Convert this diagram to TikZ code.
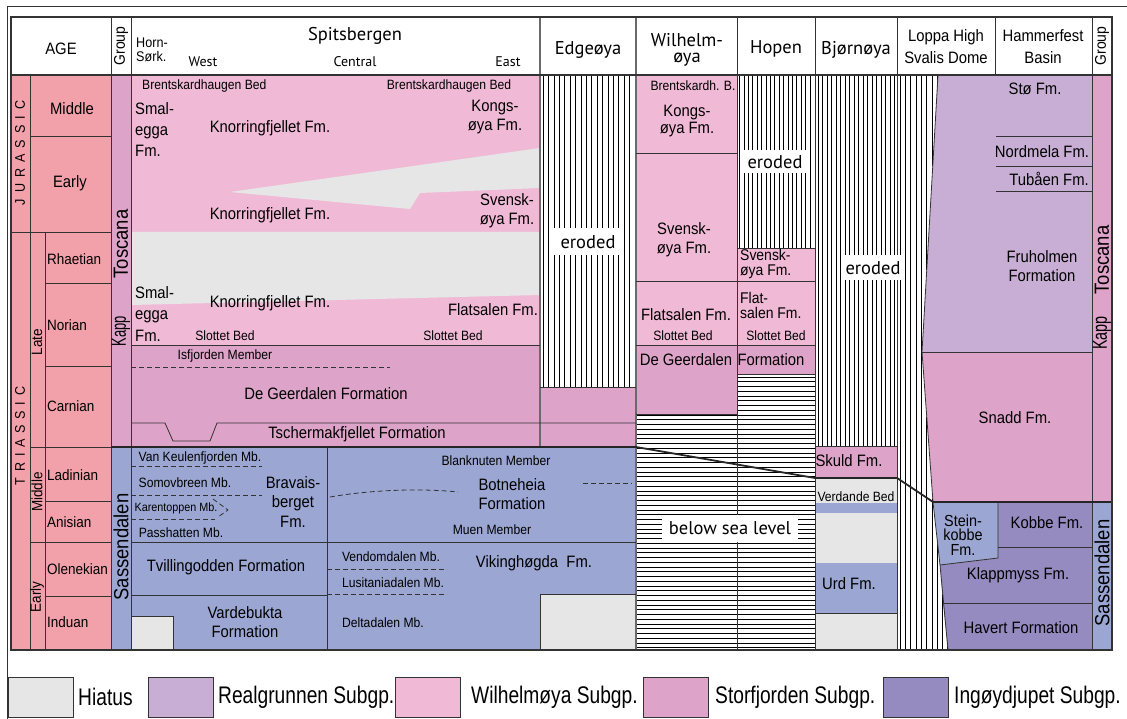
\documentclass[tikz,border=0pt]{standalone}
\usepackage{fontspec}
\usepackage{graphicx}
\setmainfont{Liberation Sans}[FakeStretch=0.9]
\newfontfamily\hdfont{PT Sans}
\newfontfamily\legfont{Liberation Sans}[FakeStretch=0.8]
\definecolor{hiat}{HTML}{E6E6E6}
\definecolor{realg}{HTML}{C8AED4}
\definecolor{wilh}{HTML}{F0BAD6}
\definecolor{storf}{HTML}{DDA3C8}
\definecolor{ingo}{HTML}{958BC0}
\definecolor{sass}{HTML}{9BA7D2}
\definecolor{agec}{HTML}{F2A1AA}
\definecolor{bord}{HTML}{333333}
\definecolor{gbord}{HTML}{6A6A6A}
\tikzset{
  big/.style={font=\fontsize{16.5}{19}\selectfont, inner sep=0pt, align=center},
  med/.style={font=\fontsize{13.5}{15}\selectfont, inner sep=0pt, align=center},
  stg/.style={font=\fontsize{15}{17}\selectfont, inner sep=0pt, anchor=west},
  hd/.style={font=\hdfont\fontsize{18.5}{20}\selectfont, inner sep=0pt, align=center},
  sub/.style={font=\hdfont\fontsize{14}{16}\selectfont, inner sep=0pt},
  hda/.style={font=\fontsize{16.5}{22}\selectfont, inner sep=0pt, align=center},
  grp/.style={font=\fontsize{20.5}{22}\selectfont, inner sep=0pt, rotate=90},
  grph/.style={font=\fontsize{15.5}{17}\selectfont, inner sep=0pt, rotate=90},
  per/.style={font=\fontsize{14}{16}\selectfont, inner sep=0pt, rotate=90},
  leg/.style={font=\legfont\fontsize{24}{26}\selectfont, inner sep=0pt, anchor=west},
  ln/.style={draw=bord, line width=0.8pt},
  tb/.style={draw=bord, line width=1.2pt},
  gln/.style={draw=gbord, line width=2pt},
  thk/.style={draw=black!85, line width=1.8pt},
  hatch/.style={draw=black, line width=0.6pt},
  dsh/.style={draw=bord, line width=0.8pt, dash pattern=on 5pt off 3pt},
  whbox/.style={font=\hdfont\fontsize{18.5}{20}\selectfont, fill=white, inner sep=0pt},
  lbox/.style={draw=bord, line width=0.8pt}
}
\begin{document}
\begin{tikzpicture}[x=1pt,y=-1pt]
\useasboundingbox (0,0) rectangle (1127,719);
% ---------- fills ----------
\fill[agec] (11,75) rectangle (111,650);
\fill[storf] (111,75) rectangle (131,447);
\fill[sass] (111,447) rectangle (131,650);
\fill[storf] (1092,75) rectangle (1112,502);
\fill[sass] (1092,502) rectangle (1112,650);
% Spitsbergen
\fill[wilh] (131,75) rectangle (540,345);
\fill[hiat] (131,232) -- (540,232) -- (540,295) -- (131,305) -- cycle;
\fill[hiat] (540,148) -- (230,192) -- (410,209) -- (420,193) -- (540,188) -- cycle;
\fill[storf] (131,345) rectangle (540,447);
\fill[sass] (131,447) rectangle (636,650);
\fill[hiat] (540,594) rectangle (636,650);
\fill[hiat] (131,616) rectangle (173,650);
% Edgeoya
\fill[storf] (540,387) rectangle (636,447);
% Wilhelmoya
\fill[wilh] (636,75) rectangle (737,345);
\fill[storf] (636,345) rectangle (737,414);
% Hopen
\fill[wilh] (737,248) rectangle (815,345);
\fill[storf] (737,345) rectangle (815,374);
% Bjornoya
\fill[storf] (815,446) rectangle (897,478);
\fill[hiat] (815,478) rectangle (897,650);
\fill[sass] (815,503) rectangle (897,513);
\fill[sass] (815,563) rectangle (897,613);
% Barents Sea
\fill[realg] (938,75) -- (1092,75) -- (1092,352) -- (922,352) -- cycle;
\fill[storf] (922,352) -- (1092,352) -- (1092,502) -- (933,502) -- cycle;
\fill[sass] (933,502) -- (998,502) -- (998,558) -- (940,565) -- cycle;
\fill[ingo] (998,502) -- (1092,502) -- (1092,547) -- (998,547) -- cycle;
\fill[ingo] (940,565) -- (998,558) -- (998,547) -- (1092,547) -- (1092,603) -- (943,603) -- cycle;
\fill[ingo] (943,603) -- (1092,603) -- (1092,650) -- (948,650) -- cycle;
% ---------- hatches ----------
\foreach \i in {0,...,17} \draw[hatch] ({543+5.4*\i},75) -- ({543+5.4*\i},387);
\foreach \i in {0,...,16} \draw[hatch] ({739.5+4.4*\i},75) -- ({739.5+4.4*\i},248);
\foreach \i in {0,...,17} \draw[hatch] ({818+4.5*\i},75) -- ({818+4.5*\i},446);
\begin{scope}
\clip (897,75) -- (938,75) -- (922,352) -- (933,502) -- (940,565) -- (948,650) -- (897,650) -- cycle;
\foreach \i in {0,...,10} \draw[hatch] ({900+5.3*\i},75) -- ({900+5.3*\i},650);
\end{scope}
\begin{scope}
\clip (636,414) rectangle (737,650) (737,374) rectangle (815,650);
\foreach \i in {0,...,57} \draw[hatch] (636,{377+4.75*\i}) -- (815,{377+4.75*\i});
\end{scope}
% ---------- lines ----------
\draw[ln] (30,75) -- (30,650);
\draw[ln] (45,232) -- (45,650);
\draw[ln] (30,136) -- (111,136);
\draw[ln] (11,232) -- (111,232);
\foreach \y in {283,366,501,596} \draw[ln] (45,\y) -- (111,\y);
\foreach \y in {447,542} \draw[ln] (30,\y) -- (111,\y);
\foreach \x in {111,131} \draw[ln] (\x,17) -- (\x,650);
\foreach \x in {737,815,897,995,1092} \draw[ln] (\x,17) -- (\x,75);
\draw[ln] (737,75) -- (737,515);
\draw[ln] (737,542) -- (737,650);
\foreach \x in {815,897,1092} \draw[ln] (\x,75) -- (\x,650);
\draw[gln] (540,17) -- (540,447);
\draw[gln] (636,17) -- (636,650);
% Spitsbergen
\draw[ln] (131,345) -- (540,345);
\draw[ln] (131,423) -- (165,423) -- (173,441) -- (210,441) -- (217,423) -- (636,423);
\draw[ln] (540,387) -- (636,387);
\draw[ln] (327,447) -- (327,650);
\draw[ln] (131,542) -- (636,542);
\draw[ln] (131,595) -- (327,595);
\draw[ln] (131,616) -- (173,616) -- (173,650);
\draw[ln] (540,650) -- (540,594) -- (636,594);
% Wilhelmoya / Hopen
\draw[ln] (636,153) -- (737,153);
\draw[ln] (636,281) -- (815,281);
\draw[ln] (636,345) -- (815,345);
\draw[ln] (636,414) -- (737,414);
\draw[ln] (737,374) -- (815,374);
\draw[ln] (737,248) -- (815,248);
% Bjornoya
\draw[ln] (815,446) -- (897,446);
\draw[ln] (815,613) -- (897,613);
% Barents
\draw[ln] (938,75) -- (922,352) -- (933,502) -- (940,565) -- (948,650);
\draw[ln] (922,352) -- (1092,352);
\foreach \y in {136,166,191} \draw[ln] (996,\y) -- (1092,\y);
\draw[ln] (998,502) -- (998,558) -- (940,565);
\draw[ln] (998,547) -- (1092,547);
\draw[ln] (943,603) -- (1092,603);
% thick boundary
\draw[thk] (111,447) -- (636,447) -- (815,478) -- (897,478) -- (933,502) -- (1112,502);
% table border
\draw[tb] (11,17) rectangle (1112,650);
\draw[tb] (11,75) -- (1112,75);
% dashed
\draw[dsh] (131,367) -- (390,367);
\draw[dsh] (131,466) -- (262,466);
\draw[dsh] (131,495) -- (262,495);
\draw[dsh] (131,519) -- (215,519);
\draw[dsh] (213,499) -- (228,510) -- (218,517);
\draw[dsh] (330,497) .. controls (370,490) and (420,488) .. (458,492);
\draw[dsh] (583,483) -- (632,483);
\draw[dsh] (327,569) -- (447,569);
\draw[dsh] (327,594) -- (447,594);
% ---------- white label boxes ----------
\node[whbox, minimum width=70pt, minimum height=27pt] (er1) at (588,242) {eroded};
\node[whbox, minimum width=70pt, minimum height=23pt] (er2) at (775,162) {eroded};
\node[whbox, minimum width=60pt, minimum height=25pt] (er3) at (873,268) {eroded};
\node[whbox, minimum width=136pt, minimum height=27pt] (bsl) at (730,528) {below sea level};
% ---------- header ----------
\node[hda] (age) at (61,49) {AGE};
\node[grph] (g1) at (121,46) {Group};
\node[font=\fontsize{14}{14.5}\selectfont, inner sep=0pt, align=left, anchor=west] (hs) at (136,50) {Horn-\\Sørk.};
\node[sub] (west) at (203,62) {West};
\node[hd] (spb) at (355,36) {Spitsbergen};
\node[sub] (cen) at (355,62) {Central};
\node[sub] (east) at (508,62) {East};
\node[hd] (edg) at (588,50) {Edgeøya};
\node[hd, font=\hdfont\fontsize{18.5}{16.5}\selectfont] (wil) at (687,50) {Wilhelm-\\øya};
\node[hd] (hop) at (776,49) {Hopen};
\node[hd] (bjo) at (856,50) {Bjørnøya};
\node[hda] (lop) at (946,47) {Loppa High\\Svalis Dome};
\node[hda] (ham) at (1043,47) {Hammerfest\\Basin};
\node[grph] (g2) at (1102,46) {Group};
% ---------- age column ----------
\node[per] (jur) at (20,153) {J\kern6pt U\kern6pt R\kern6pt A\kern6pt S\kern6pt S\kern6pt I\kern6pt C};
\node[per] (tri) at (20,436) {T\kern5.8pt R\kern5.8pt I\kern5.8pt A\kern5.8pt S\kern5.8pt S\kern5.8pt I\kern5.8pt C};
\node[big] (jm) at (72,109) {Middle};
\node[big] (je) at (70,183) {Early};
\node[per, font=\fontsize{15}{17}\selectfont] (tl) at (37,342) {Late};
\node[per, font=\fontsize{15}{17}\selectfont] (tm) at (37,492) {Middle};
\node[per, font=\fontsize{15}{17}\selectfont] (te) at (37,597) {Early};
\node[stg] (rh) at (47,259) {Rhaetian};
\node[stg] (no) at (47,325) {Norian};
\node[stg] (ca) at (47,406) {Carnian};
\node[stg] (la) at (47,475) {Ladinian};
\node[stg] (an) at (47,522) {Anisian};
\node[stg] (ol) at (47,569) {Olenekian};
\node[stg] (in) at (47,622) {Induan};
% ---------- group columns ----------
\node[grp] (kt1a) at (121,244) {Toscana};
\node[grp] (kt1b) at (121,331) {\scalebox{0.7}[1]{Kapp}};
\node[grp] (sa1) at (121,547) {Sassendalen};
\node[grp] (kt2a) at (1102,260) {Toscana};
\node[grp] (kt2b) at (1102,333) {\scalebox{0.78}[1]{Kapp}};
\node[grp] (sa2) at (1102,573) {Sassendalen};
% ---------- Spitsbergen ----------
\node[med, anchor=west] (bb1) at (142,86) {Brentskardhaugen Bed};
\node[med] (bb2) at (449,86) {Brentskardhaugen Bed};
\node[big, align=left, anchor=west, font=\fontsize{16.5}{21}\selectfont] (se1) at (135,130) {Smal-\\egga\\Fm.};
\node[big] (kn1) at (270,128) {Knorringfjellet Fm.};
\node[big] (ko1) at (495,117) {Kongs-\\øya Fm.};
\node[big] (kn2) at (270,215) {Knorringfjellet Fm.};
\node[big] (sv1) at (507,211) {Svensk-\\øya Fm.};
\node[big, align=left, anchor=west, font=\fontsize{16.5}{21.5}\selectfont] (se2) at (135,314) {Smal-\\egga\\Fm.};
\node[big] (kn3) at (270,303) {Knorringfjellet Fm.};
\node[big] (fl1) at (493,310) {Flatsalen Fm.};
\node[med] (sb1) at (225,336) {Slottet Bed};
\node[med] (sb2) at (453,336) {Slottet Bed};
\node[med] (isf) at (225,356) {Isfjorden Member};
\node[big] (dg1) at (326,394) {De Geerdalen Formation};
\node[big] (tsc) at (357,434) {Tschermakfjellet Formation};
\node[med] (vk) at (200,458) {Van Keulenfjorden Mb.};
\node[med] (som) at (185,483) {Somovbreen Mb.};
\node[med, font=\fontsize{12}{14}\selectfont] (kar) at (176,508) {Karentoppen Mb.};
\node[med] (pas) at (181,533) {Passhatten Mb.};
\node[big, font=\fontsize{16.5}{19.5}\selectfont] (bra) at (293,502) {Bravais-\\berget\\Fm.};
\node[big] (tvi) at (226,567) {Tvillingodden Formation};
\node[big] (var) at (245,622) {Vardebukta\\Formation};
\node[med] (bla) at (496,461) {Blanknuten Member};
\node[big] (bot) at (512,494) {Botneheia\\Formation};
\node[med] (mue) at (492,530) {Muen Member};
\node[big] (vik) at (534,563) {Vikinghøgda~ Fm.};
\node[med] (ven) at (391,557) {Vendomdalen Mb.};
\node[med] (lus) at (393,583) {Lusitaniadalen Mb.};
\node[med] (del) at (383,623) {Deltadalen Mb.};
% ---------- Wilhelmoya ----------
\node[med] (bb3) at (693,86) {Brentskardh. B.};
\node[big, font=\fontsize{16.5}{17}\selectfont] (ko2) at (687,121) {Kongs-\\øya Fm.};
\node[big] (sv2) at (684,240) {Svensk-\\øya Fm.};
\node[big] (fl2) at (686,315) {Flatsalen Fm.};
\node[med] (sb3) at (683,336) {Slottet Bed};
\node[big] (dg2) at (686,360) {De Geerdalen};
% ---------- Hopen ----------
\node[big, align=left, anchor=west, font=\fontsize{15.5}{15}\selectfont] (sv3) at (740,264) {Svensk-\\øya Fm.};
\node[big, align=left, anchor=west, font=\fontsize{15.5}{15}\selectfont] (fl3) at (740,305) {Flat-\\salen Fm.};
\node[med] (sb4) at (776,336) {Slottet Bed};
\node[big] (dg3) at (771,360) {Formation};
% ---------- Bjornoya ----------
\node[big] (sku) at (849,461) {Skuld Fm.};
\node[med] (ver) at (856,497) {Verdande Bed};
\node[big] (urd) at (849,584) {Urd Fm.};
% ---------- Barents ----------
\node[big] (sto) at (1035,89) {Stø Fm.};
\node[big] (nor) at (1042,152) {Nordmela Fm.};
\node[big] (tub) at (1049,179) {Tubåen Fm.};
\node[big] (fru) at (1042,266) {Fruholmen\\Formation};
\node[big] (sna) at (1015,418) {Snadd Fm.};
\node[big, font=\fontsize{16}{14.5}\selectfont] (ste) at (963,535) {Stein-\\kobbe\\Fm.};
\node[big] (kob) at (1047,523) {Kobbe Fm.};
\node[big] (kla) at (1018,575) {Klappmyss Fm.};
\node[big] (hav) at (1021,628) {Havert Formation};
% ---------- legend ----------
\draw[lbox, fill=hiat] (8,677) rectangle (73,717);
\node[leg] (l1) at (78,697) {Hiatus};
\draw[lbox, fill=realg] (148,677) rectangle (213,717);
\node[leg] (l2) at (218,697) {Realgrunnen Subgp.};
\draw[lbox, fill=wilh] (395,677) rectangle (460,717);
\node[leg] (l3) at (471,697) {Wilhelmøya Subgp.};
\draw[lbox, fill=storf] (643,677) rectangle (708,717);
\node[leg] (l4) at (715,697) {Storfjorden Subgp.};
\draw[lbox, fill=ingo] (883,677) rectangle (948,717);
\node[leg] (l5) at (954,697) {Ingøydjupet Subgp.};
% outer frame
\draw[draw=bord, line width=0.8pt] (7,719) -- (7,6) -- (1127,6);
\end{tikzpicture}
\end{document}
